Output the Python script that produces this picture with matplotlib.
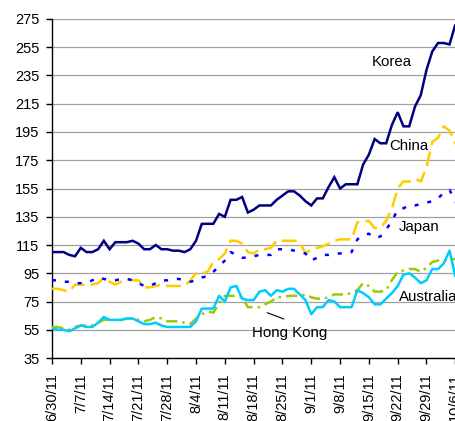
import matplotlib
matplotlib.use("Agg")
import matplotlib.pyplot as plt

plt.rcParams['font.family'] = ['Liberation Sans', 'DejaVu Sans']

tick_labels = ["6/30/11", "7/7/11", "7/14/11", "7/21/11", "7/28/11", "8/4/11", "8/11/11",
               "8/18/11", "8/25/11", "9/1/11", "9/8/11", "9/15/11", "9/22/11", "9/29/11", "10/6/11"]

korea = [110, 110, 110, 108, 107, 113, 110, 110, 112, 118, 112, 117, 117, 117, 118, 116, 112, 112, 115, 112,
         112, 111, 111, 110, 112, 118, 130, 130, 130, 137, 135, 147, 147, 149, 138, 140, 143, 143, 143, 147,
         150, 153, 153, 150, 146, 143, 148, 148, 156, 163, 155, 158, 158, 158, 172, 179, 190, 187, 187, 200,
         209, 199, 199, 213, 221, 239, 252, 258, 258, 257, 271, 245]
china = [84, 84, 83, 82, 87, 87, 87, 87, 88, 92, 89, 87, 89, 91, 90, 90, 85, 85, 86, 87,
         86, 86, 86, 86, 90, 95, 95, 96, 103, 105, 109, 118, 118, 116, 110, 109, 112, 112, 113, 118,
         118, 118, 118, 117, 109, 112, 113, 114, 116, 118, 119, 119, 119, 131, 132, 132, 127, 127, 132, 141,
         155, 160, 160, 162, 160, 170, 188, 191, 199, 196, 187, 183]
japan = [90, 90, 89, 89, 88, 88, 88, 90, 92, 91, 90, 90, 91, 91, 90, 88, 86, 86, 88, 90,
         90, 91, 91, 90, 89, 90, 92, 93, 96, 100, 104, 110, 108, 106, 106, 107, 108, 108, 108, 112,
         112, 112, 111, 110, 109, 104, 106, 108, 108, 109, 109, 110, 110, 119, 122, 123, 120, 121, 126, 132,
         140, 141, 143, 143, 144, 145, 146, 148, 152, 154, 146, 140]
australia = [57, 57, 56, 55, 57, 58, 58, 58, 60, 62, 62, 62, 62, 63, 63, 62, 61, 62, 64, 63,
             61, 61, 61, 60, 59, 63, 66, 68, 67, 74, 79, 79, 79, 78, 71, 71, 71, 73, 75, 78,
             78, 79, 79, 79, 80, 78, 77, 77, 78, 80, 80, 80, 81, 83, 88, 86, 82, 82, 83, 90,
             96, 97, 98, 98, 96, 99, 103, 104, 104, 105, 105, 104]
hong_kong = [56, 55, 55, 54, 56, 58, 57, 57, 60, 64, 62, 62, 62, 63, 63, 61, 59, 59, 60, 58,
             57, 57, 57, 57, 57, 61, 70, 70, 70, 79, 75, 85, 86, 77, 76, 76, 82, 83, 79, 83,
             82, 84, 84, 80, 76, 66, 71, 71, 76, 75, 71, 71, 71, 83, 81, 78, 73, 73, 77, 81,
             86, 94, 95, 92, 88, 90, 98, 98, 102, 111, 93, 88]
y_ticks = list(range(35, 276, 20))

fig = plt.figure(figsize=(4.56, 4.21), dpi=100)
ax = fig.add_axes([0.114, 0.1496, 0.886, 0.8053])

x = list(range(len(korea)))
lw = 1.8
ax.plot(x, korea, color='#000080', lw=lw, solid_joinstyle='miter', zorder=5)
ax.plot(x, china, color='#FFCC00', lw=lw, dashes=(6, 2.5), zorder=3)
ax.plot(x, japan, color='#0000FF', lw=lw, dashes=(1.6, 3.6), zorder=4)
ax.plot(x, australia, color='#99CC00', lw=lw, dashes=(4.5, 2, 1, 2), zorder=3)
ax.plot(x, hong_kong, color='#00CCFF', lw=lw, zorder=4)

ax.set_ylim(35, 275)
ax.set_xlim(0, 70.12)
ax.set_yticks(y_ticks)
ax.set_xticks(range(0, 5 * len(tick_labels), 5))
ax.set_xticklabels(tick_labels, rotation=90, va='top', ha='center')
ax.tick_params(axis='both', labelsize=10.5, colors='black', direction='out', length=4.5, width=1)
ax.tick_params(axis='y', pad=4.5)
ax.tick_params(axis='x', pad=6.5)

ax.grid(axis='y', color='#A0A0A0', lw=0.9)
ax.set_axisbelow(True)
for s in ['top', 'right']:
    ax.spines[s].set_visible(False)
for s in ['left', 'bottom']:
    ax.spines[s].set_color('black')
    ax.spines[s].set_linewidth(1)

fs = 10.8
ax.text(59.0, 244.6, "Korea", fontsize=fs, ha='center', va='center')
ax.text(62.0, 185.3, "China", fontsize=fs, ha='center', va='center')
ax.text(63.7, 128, "Japan", fontsize=fs, ha='center', va='center')
ax.text(60.2, 78.4, "Australia", fontsize=fs, ha='left', va='center', clip_on=False)
ax.text(41.2, 52.9, "Hong Kong", fontsize=fs, ha='center', va='center')
ax.annotate("", xy=(36.9, 67.8), xytext=(40.7, 61.9),
            arrowprops=dict(arrowstyle='-', color='black', lw=0.8))

fig.savefig("out.png", dpi=100)
